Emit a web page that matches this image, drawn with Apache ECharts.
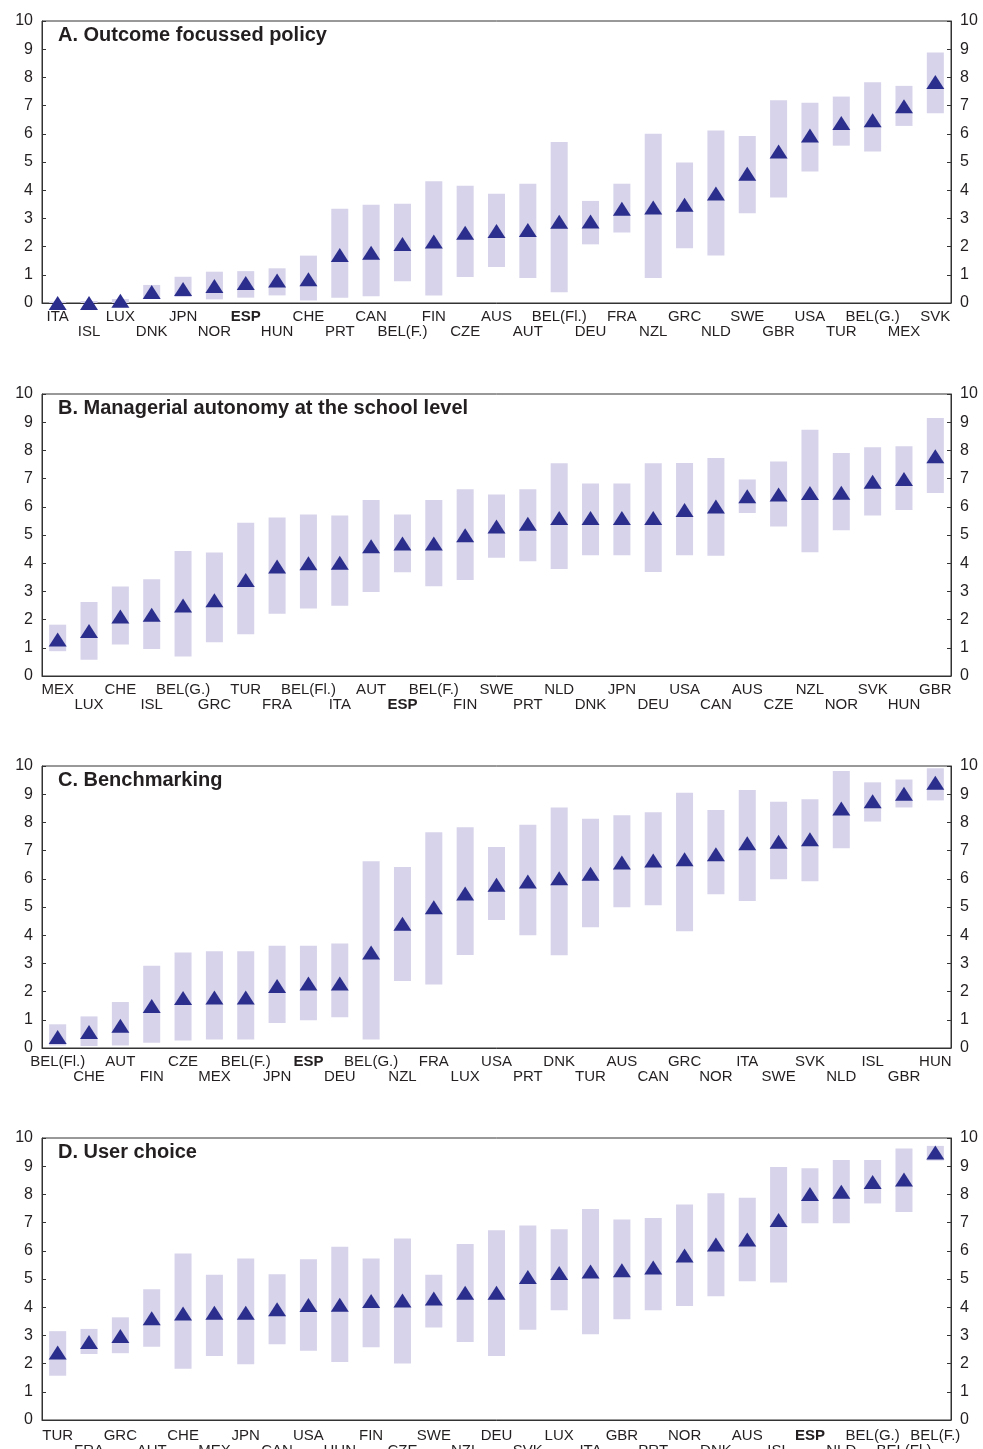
<!DOCTYPE html>
<html>
<head>
<meta charset="utf-8">
<script src="https://cdn.jsdelivr.net/npm/echarts@6/dist/echarts.min.js"></script>
<style>
html,body{margin:0;padding:0;background:#fff;}
#chart{width:983px;height:1449px;}
</style>
</head>
<body>
<div id="chart"></div>
<script>
// Panel A. Outcome focussed policy
var catsA = ['ITA','ISL','LUX','DNK','JPN','NOR','ESP','HUN','CHE','PRT','CAN','BEL(F.)','FIN','CZE','AUS','AUT','BEL(Fl.)','DEU','FRA','NZL','GRC','NLD','SWE','GBR','USA','TUR','BEL(G.)','MEX','SVK'];
var meanA = [0,0,0.08,0.39,0.5,0.6,0.71,0.8,0.84,1.7,1.78,2.09,2.18,2.49,2.55,2.59,2.88,2.89,3.34,3.39,3.48,3.88,4.58,5.37,5.94,6.38,6.48,6.98,7.84];
var lowA  = [0,0,0,0.17,0.21,0.13,0.19,0.27,0.09,0.19,0.24,0.77,0.27,0.92,1.28,0.89,0.38,2.08,2.5,0.89,1.94,1.68,3.18,3.74,4.66,5.58,5.37,6.28,6.73];
var highA = [0.05,0.07,0.14,0.64,0.93,1.11,1.13,1.23,1.68,3.34,3.48,3.52,4.32,4.16,3.87,4.23,5.71,3.62,4.23,6.0,4.98,6.12,5.92,7.19,7.1,7.32,7.83,7.7,8.88];

// Panel B. Managerial autonomy at the school level
var catsB = ['MEX','LUX','CHE','ISL','BEL(G.)','GRC','TUR','FRA','BEL(Fl.)','ITA','AUT','ESP','BEL(F.)','FIN','SWE','PRT','NLD','DNK','JPN','DEU','USA','CAN','AUS','CZE','NZL','NOR','SVK','HUN','GBR'];
var meanB = [1.29,1.6,2.11,2.17,2.5,2.69,3.4,3.88,4.0,4.02,4.6,4.7,4.7,4.99,5.3,5.4,5.6,5.6,5.6,5.6,5.89,6.01,6.37,6.44,6.49,6.5,6.89,6.99,7.79];
var lowB  = [0.88,0.58,1.12,0.96,0.69,1.2,1.48,2.21,2.39,2.49,2.98,3.68,3.18,3.4,4.19,4.07,3.79,4.28,4.28,3.69,4.28,4.26,5.78,5.3,4.39,5.17,5.69,5.89,6.49];
var highB = [1.82,2.62,3.17,3.43,4.43,4.38,5.43,5.62,5.73,5.69,6.24,5.73,6.24,6.62,6.44,6.62,7.54,6.83,6.83,7.54,7.55,7.73,6.97,7.61,8.73,7.91,8.11,8.15,9.15];

// Panel C. Benchmarking
var catsC = ['BEL(Fl.)','CHE','AUT','FIN','CZE','MEX','BEL(F.)','JPN','ESP','DEU','BEL(G.)','NZL','FRA','LUX','USA','PRT','DNK','TUR','AUS','CAN','GRC','NOR','ITA','SWE','SVK','NLD','ISL','GBR','HUN'];
var meanC = [0.39,0.57,0.79,1.49,1.77,1.79,1.79,2.2,2.29,2.29,3.39,4.41,4.99,5.48,5.79,5.9,6.02,6.18,6.58,6.65,6.69,6.87,7.26,7.31,7.4,8.49,8.75,9.02,9.41];
var lowC  = [0.09,0.07,0.09,0.19,0.27,0.3,0.3,0.89,0.98,1.09,0.3,2.38,2.25,3.3,4.54,4.0,3.29,4.28,4.99,5.06,4.14,5.45,5.21,5.98,5.91,7.08,8.03,8.53,8.78];
var highC = [0.84,1.12,1.63,2.92,3.39,3.43,3.43,3.63,3.63,3.71,6.62,6.42,7.65,7.83,7.13,7.92,8.53,8.13,8.25,8.36,9.05,8.44,9.15,8.73,8.82,9.82,9.42,9.52,9.92];

// Panel D. User choice
var catsD = ['TUR','FRA','GRC','AUT','CHE','MEX','JPN','CAN','USA','HUN','FIN','CZE','SWE','NZL','DEU','SVK','LUX','ITA','GBR','PRT','NOR','DNK','AUS','ISL','ESP','NLD','BEL(G.)','BEL(Fl.)','BEL(F.)'];
var meanD = [2.39,2.77,2.98,3.61,3.78,3.8,3.8,3.93,4.08,4.09,4.22,4.24,4.31,4.51,4.51,5.07,5.21,5.27,5.31,5.41,5.83,6.22,6.4,7.09,8.01,8.09,8.44,8.53,9.49];
var lowD  = [1.57,2.34,2.37,2.6,1.82,2.27,1.98,2.69,2.46,2.06,2.58,2.0,3.28,2.77,2.27,3.2,3.89,3.04,3.57,3.89,4.04,4.39,4.92,4.88,6.98,6.98,7.68,7.38,9.2];
var highD = [3.15,3.23,3.64,4.64,5.9,5.15,5.73,5.17,5.7,6.14,5.73,6.44,5.15,6.24,6.73,6.9,6.76,7.48,7.11,7.16,7.64,8.04,7.88,8.97,8.93,9.22,9.22,9.63,9.72];

var titles = ['A. Outcome focussed policy','B. Managerial autonomy at the school level','C. Benchmarking','D. User choice'];
var yTicks = [0,1,2,3,4,5,6,7,8,9,10];

var panels = [
  {cats:catsA, mean:meanA, low:lowA, high:highA},
  {cats:catsB, mean:meanB, low:lowB, high:highB},
  {cats:catsC, mean:meanC, low:lowC, high:highC},
  {cats:catsD, mean:meanD, low:lowD, high:highD}
];
var gridTops = [21, 394, 766, 1138];
var labelMargins = [6, 6, 6, 8];
var FONT = '"Liberation Sans", Arial, Helvetica, sans-serif';
var AXIS = '#333333';
var TEXT = '#231f20';
var BAR = '#d6d3ea';
var MARK = '#2b2e8c';

var option = {
  animation: false,
  backgroundColor: '#ffffff',
  title: [], grid: [], xAxis: [], yAxis: [], series: []
};

panels.forEach(function (p, i) {
  option.title.push({
    text: titles[i], left: 58, top: gridTops[i] + 4, padding: 0,
    textStyle: {fontFamily: FONT, fontSize: 20, fontWeight: 'bold', color: TEXT}
  });
  option.grid.push({
    left: 42, right: 32, top: gridTops[i], height: 282,
    containLabel: false, outerBoundsMode: 'none',
    show: true, borderColor: AXIS, borderWidth: 1, backgroundColor: 'transparent'
  });
  option.xAxis.push({
    type: 'category', gridIndex: i, data: p.cats, boundaryGap: true,
    axisLine: {lineStyle: {color: AXIS, width: 1}},
    axisTick: {show: false},
    axisLabel: {
      interval: 0, hideOverlap: false, margin: labelMargins[i],
      fontFamily: FONT, fontSize: 15, lineHeight: 15, color: TEXT,
      formatter: function (v, idx) {
        var t = (v === 'ESP') ? '{b|' + v + '}' : '{n|' + v + '}';
        return (idx % 2 === 1) ? '{n| }\n' + t : t;
      },
      rich: {
        n: {fontFamily: FONT, fontSize: 15, lineHeight: 15, color: TEXT},
        b: {fontFamily: FONT, fontSize: 15, lineHeight: 15, color: TEXT, fontWeight: 'bold'}
      }
    },
    splitLine: {show: false}
  });
  [ 'left', 'right' ].forEach(function (pos) {
    option.yAxis.push({
      type: 'value', gridIndex: i, position: pos, min: yTicks[0], max: yTicks[yTicks.length - 1], interval: 1,
      axisLine: {show: true, lineStyle: {color: AXIS, width: 1}},
      axisTick: {show: true, inside: true, length: 4, lineStyle: {color: AXIS}},
      axisLabel: {margin: 9, fontFamily: FONT, fontSize: 16, color: TEXT},
      splitLine: {show: false}
    });
  });
  var range = p.high.map(function (h, k) { return +(h - p.low[k]).toFixed(3); });
  option.series.push({
    type: 'bar', xAxisIndex: i, yAxisIndex: i * 2, stack: 'r' + i, data: p.low,
    barWidth: 17, itemStyle: {color: 'transparent'}, silent: true
  });
  option.series.push({
    type: 'bar', xAxisIndex: i, yAxisIndex: i * 2, stack: 'r' + i, data: range,
    barWidth: 17, itemStyle: {color: BAR}
  });
  option.series.push({
    type: 'scatter', xAxisIndex: i, yAxisIndex: i * 2, data: p.mean,
    symbol: 'triangle', symbolSize: [18, 14], itemStyle: {color: MARK, opacity: 1}, z: 5
  });
});

var chart = echarts.init(document.getElementById('chart'), null, {renderer: 'canvas'});
chart.setOption(option);
</script>
</body>
</html>
